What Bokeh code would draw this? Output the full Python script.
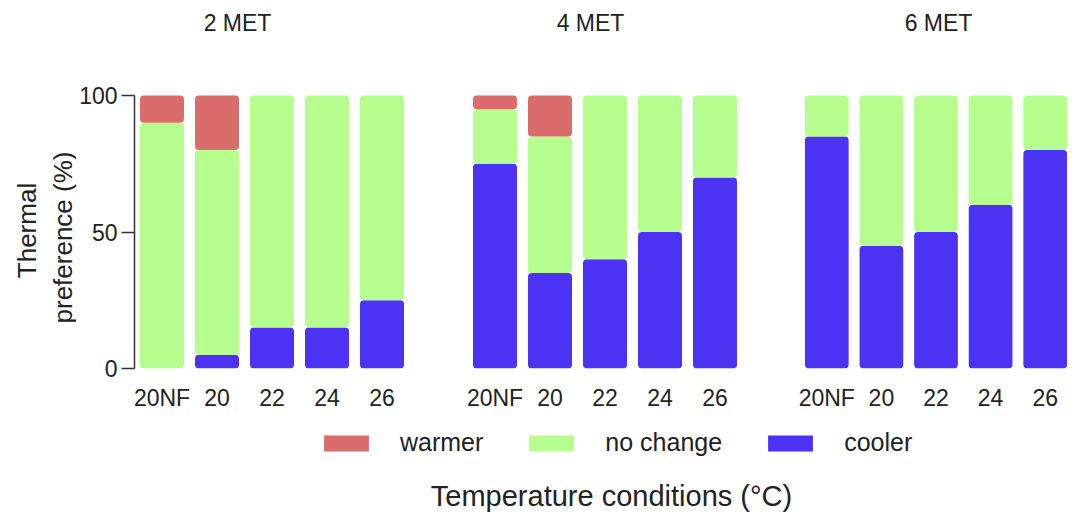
import math
from bokeh.plotting import figure
from bokeh.layouts import row, column
from bokeh.models import (ColumnDataSource, FactorRange, Range1d, FixedTicker,
                          Legend, LegendItem, Label)
from bokeh.transform import stack
from bokeh.embed import file_html
from bokeh.resources import INLINE

# ---- data ----
categories = ["20NF", "20", "22", "24", "26"]
panels = ["2 MET", "4 MET", "6 MET"]
series = ["warmer", "no change", "cooler"]

cooler_2 = [0, 5, 15, 15, 25]
nochange_2 = [90, 75, 85, 85, 75]
warmer_2 = [10, 20, 0, 0, 0]

cooler_4 = [75, 35, 40, 50, 70]
nochange_4 = [20, 50, 60, 50, 30]
warmer_4 = [5, 15, 0, 0, 0]

cooler_6 = [85, 45, 50, 60, 80]
nochange_6 = [15, 55, 50, 40, 20]
warmer_6 = [0, 0, 0, 0, 0]

yticks = [0, 50, 100]
y_label_lines = ["Thermal", "preference (%)"]
x_label = "Temperature conditions (\u00b0C)"

# ---- style ----
FONT = "Liberation Sans"
C_WARM = "#DA6C6C"
C_NOCH = "#B6FE8E"
C_COOL = "#4C32F3"
TXT = "#222222"

data = [(cooler_2, nochange_2, warmer_2),
        (cooler_4, nochange_4, warmer_4),
        (cooler_6, nochange_6, warmer_6)]

PX_PER_100 = 273          # pixels for 0..100 %
TOP = 3                   # frame top (frame extends up to hold the panel titles)
H_TOP = 420
FRAME_H = 368 - TOP
YMAX = 100 * FRAME_H / PX_PER_100
W_LEFT = 76
specs = [  # width, min_border_left, frame width, title centre (px from frame left)
    (409 - W_LEFT, 134 - W_LEFT, 275, 103),
    (333, 58, 275, 123),
    (330, 57, 273, 139),
]

# ---- left strip holding the two-line y-axis title ----
pl = figure(width=W_LEFT, height=H_TOP, x_range=Range1d(0, 1), y_range=Range1d(0, 1),
            x_axis_type=None, y_axis_type=None, output_backend="svg",
            toolbar_location=None, min_border_left=0, min_border_right=0,
            min_border_top=0, min_border_bottom=0)
pl.outline_line_color = None
for txt, lx, ly in zip(y_label_lines, [26, 62], [138, 131]):
    pl.add_layout(Label(x=lx, y=ly, x_units="screen", y_units="screen", text=txt,
                        angle=math.pi / 2, text_align="center", text_baseline="middle",
                        text_font=FONT, text_font_size="26px", text_color=TXT))

figs = [pl]
for i, (name, (c, n, w), (W, mbl, fw, tx)) in enumerate(zip(panels, data, specs)):
    src = ColumnDataSource(dict(cat=categories, cooler=c, nochange=n, warmer=w))
    p = figure(x_range=FactorRange(factors=categories, range_padding=0),
               y_range=Range1d(0, YMAX),
               width=W, height=H_TOP, output_backend="svg", toolbar_location=None,
               y_axis_location="left" if i == 0 else None,
               min_border_left=mbl, min_border_right=W - mbl - fw,
               min_border_top=TOP, min_border_bottom=H_TOP - TOP - FRAME_H)
    cols = ["cooler", "nochange", "warmer"]
    colors = [C_COOL, C_NOCH, C_WARM]
    for k, (col, colr) in enumerate(zip(cols, colors)):
        p.vbar(x="cat", width=0.8, bottom=stack(*cols[:k]) if k else 0,
               top=stack(*cols[:k + 1]), color=colr, line_color=None,
               border_radius=4, source=src)
    p.add_layout(Label(x=tx, y=FRAME_H - 19, x_units="screen", y_units="screen",
                       text=name, text_align="center", text_baseline="middle",
                       text_font=FONT, text_font_size="23px", text_color=TXT))
    p.xgrid.visible = False
    p.ygrid.visible = False
    p.outline_line_color = None
    p.xaxis.axis_line_color = None
    p.xaxis.major_tick_line_color = None
    p.xaxis.major_label_standoff = 10
    p.xaxis.major_label_text_font = FONT
    p.xaxis.major_label_text_font_size = "23px"
    p.xaxis.major_label_text_color = TXT
    if i == 0:
        ya = p.yaxis[0]
        ya.ticker = FixedTicker(ticks=yticks)
        ya.bounds = (0, 100)
        ya.axis_line_color = "#333333"
        ya.axis_line_width = 1.5
        ya.major_tick_line_color = "#333333"
        ya.major_tick_line_width = 1.5
        ya.major_tick_out = 13
        ya.major_tick_in = 0
        ya.minor_tick_line_color = None
        ya.major_label_standoff = 4
        ya.major_label_text_font = FONT
        ya.major_label_text_font_size = "23px"
        ya.major_label_text_color = TXT
    figs.append(p)

# ---- bottom: legend + x title ----
HB = 95
pb = figure(width=1072, height=HB, x_range=Range1d(0, 1), y_range=Range1d(0, 1),
            x_axis_type=None, y_axis_type=None, output_backend="svg",
            toolbar_location=None, min_border_left=0, min_border_right=0,
            min_border_top=0, min_border_bottom=0)
pb.outline_line_color = None
rw = pb.vbar(x=[5], top=[5], bottom=[4], width=0.5, color=C_WARM, line_color=None, border_radius=4)
rn = pb.vbar(x=[5], top=[5], bottom=[4], width=0.5, color=C_NOCH, line_color=None, border_radius=4)
rc = pb.vbar(x=[5], top=[5], bottom=[4], width=0.5, color=C_COOL, line_color=None, border_radius=4)
legend = Legend(items=[LegendItem(label=series[0], renderers=[rw]),
                       LegendItem(label=series[1], renderers=[rn]),
                       LegendItem(label=series[2], renderers=[rc])],
                orientation="horizontal", location=(318, 58),
                glyph_width=56, glyph_height=20, label_standoff=26, spacing=40,
                padding=0, margin=0, border_line_color=None,
                background_fill_alpha=0,
                label_text_font=FONT, label_text_font_size="25px",
                label_text_color=TXT)
pb.add_layout(legend, "center")
pb.add_layout(Label(x=611, y=20, x_units="screen", y_units="screen", text=x_label,
                    text_align="center", text_baseline="middle", text_font=FONT,
                    text_font_size="29px", text_color=TXT))

layout = column(row(*figs, spacing=0), pb, spacing=0)
open("out.html", "w").write(file_html(layout, INLINE))
